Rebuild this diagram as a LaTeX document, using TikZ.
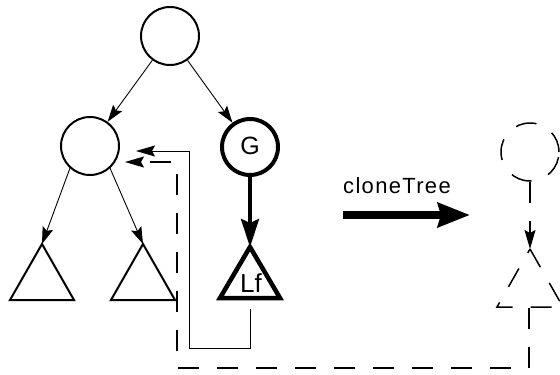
\documentclass[tikz,border=0pt]{standalone}
\usepackage{fontspec}
\setmainfont{Liberation Sans}
\usetikzlibrary{arrows.meta}
\begin{document}
\begin{tikzpicture}[x=1pt,y=-1pt,
  tnode/.style={circle,draw,line width=2pt,minimum size=58pt,inner sep=0pt},
  gnode/.style={circle,draw,line width=4pt,minimum size=56pt,inner sep=0pt},
  thinarrow/.style={line width=0.9pt,-{Stealth[length=17pt,width=11pt,inset=3pt]}},
  thickarrow/.style={line width=4pt,-{Stealth[length=28pt,width=18pt,inset=4pt]}},
  bigarrow/.style={line width=8pt,-{Stealth[length=32pt,width=24pt,inset=3pt]}},
  connarrow/.style={line width=1pt,-{Stealth[length=19pt,width=11pt,inset=3pt]}},
  dashconn/.style={line width=1.3pt,dash pattern=on 21pt off 18pt,-{Stealth[length=19pt,width=11pt,inset=3pt]}},
  dashline/.style={line width=1.5pt,dash pattern=on 21pt off 18pt},
  tri/.style={line width=2pt,line join=miter},
  thicktri/.style={line width=4.5pt,line join=miter}]
\useasboundingbox (0,0) rectangle (560,375);
\begin{scope}
\clip (0,0) rectangle (560,375);
% nodes
\node[tnode] (root) at (170,36) {};
\node[tnode] (left) at (90,146) {};
\node[gnode] (G) at (250,147) {};
\node[anchor=base,inner sep=0pt] (gt) at (250,154) {\fontsize{25}{29}\selectfont G};
% triangles
\coordinate (t1) at (42,244);
\coordinate (t2) at (143,244);
\coordinate (lf) at (250,247);
\draw[tri] (t1) -- (74,300) -- (10,300) -- cycle;
\draw[tri] (t2) -- (175,300) -- (111,300) -- cycle;
\draw[thicktri] (lf) -- (280,298) -- (220,298) -- cycle;
\node[anchor=base,inner sep=0pt] (lft) at (251,292) {\fontsize{26}{30}\selectfont Lf};
% arrows
\draw[thinarrow] (root) -- (left);
\draw[thinarrow] (root) -- (G);
\draw[thinarrow] (left.228) -- (t1);
\draw[thinarrow] (left.312) -- (t2);
\draw[thickarrow] (G) -- (lf);
% solid connector
\coordinate (lfs) at (250,309);
\coordinate (sarr) at (136,151);
\draw[connarrow] (lfs) -- (250,348) -- (189,348) -- (189,151) -- (sarr);
% cloneTree
\node[anchor=base west,inner sep=0pt] (ct) at (343,193) {\fontsize{22}{26}\selectfont\addfontfeature{LetterSpace=6}cloneTree};
\coordinate (ca) at (343,215);
\coordinate (cb) at (470,215);
\draw[bigarrow] (ca) -- (cb);
% dashed clone
\node[circle,draw,dashline,minimum size=58pt,inner sep=0pt] (dc) at (530,152) {};
\coordinate (dt) at (530,249);
\draw[dashline] (dt) -- (563,307) -- (497,307) -- cycle;
\draw[dashconn] (dc) -- (dt);
\coordinate (dts) at (529,308);
\coordinate (darr) at (125,162);
\draw[dashconn] (dts) -- (529,368) -- (177,368) -- (177,162) -- (darr);
\end{scope}
\end{tikzpicture}
\end{document}
